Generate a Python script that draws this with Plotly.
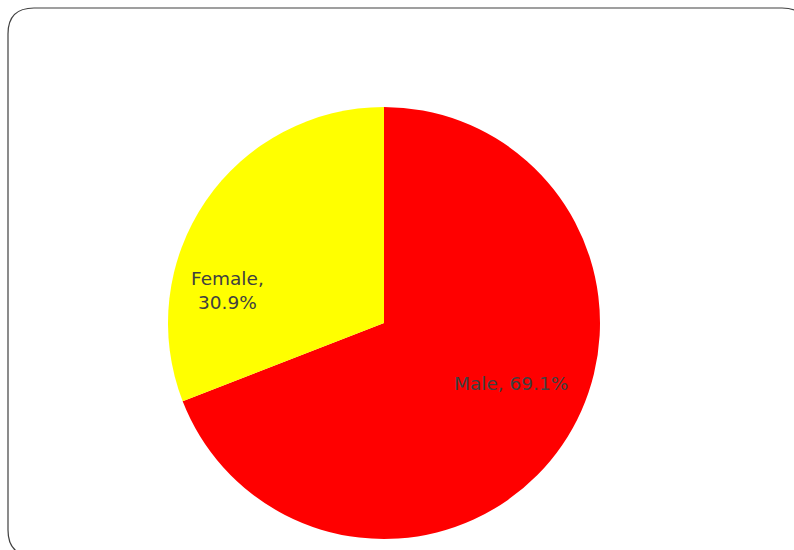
import plotly.graph_objects as go

labels = ["Male", "Female"]
values = [69.1, 30.9]
colors = ["#FF0000", "#FFFF00"]
label_fmt = ["{}, {:.1f}%", "{},<br>{:.1f}%"]

W, H = 794, 550
fig = go.Figure()
fig.add_trace(go.Pie(
    labels=labels, values=values, sort=False, direction="clockwise", rotation=0,
    marker=dict(colors=colors, line=dict(width=0)),
    textinfo="none",
    domain=dict(x=[168 / W, 600 / W], y=[1 - 539 / H, 1 - 107 / H]),
    showlegend=False, hoverinfo="label+percent",
))

# label positions (pixels) for each slice
label_pos = [(511, 383), (227, 290)]
total = sum(values)
for lab, val, fmt, (lx, ly) in zip(labels, values, label_fmt, label_pos):
    fig.add_annotation(x=lx / W, y=1 - ly / H, xref="paper", yref="paper",
                       text=fmt.format(lab, 100 * val / total), showarrow=False,
                       xanchor="center", yanchor="middle",
                       font=dict(family="DejaVu Sans", size=18.5, color="#404040"))

# rounded frame
x0, y0, x1, y1, r = 8, 8, 808, 556, 26
def px(x): return x / W
def py(y): return 1 - y / H
path = (f"M {px(x0)},{py(y0 + r)} Q {px(x0)},{py(y0)} {px(x0 + r)},{py(y0)} "
        f"L {px(x1 - r)},{py(y0)} Q {px(x1)},{py(y0)} {px(x1)},{py(y0 + r)} "
        f"L {px(x1)},{py(y1 - r)} Q {px(x1)},{py(y1)} {px(x1 - r)},{py(y1)} "
        f"L {px(x0 + r)},{py(y1)} Q {px(x0)},{py(y1)} {px(x0)},{py(y1 - r)} Z")
fig.add_shape(type="path", xref="paper", yref="paper", path=path,
              line=dict(color="#404040", width=1.2), layer="below")

fig.update_layout(width=W, height=H, margin=dict(l=0, r=0, t=0, b=0),
                  paper_bgcolor="white", plot_bgcolor="white")
fig.write_html("out.html")
